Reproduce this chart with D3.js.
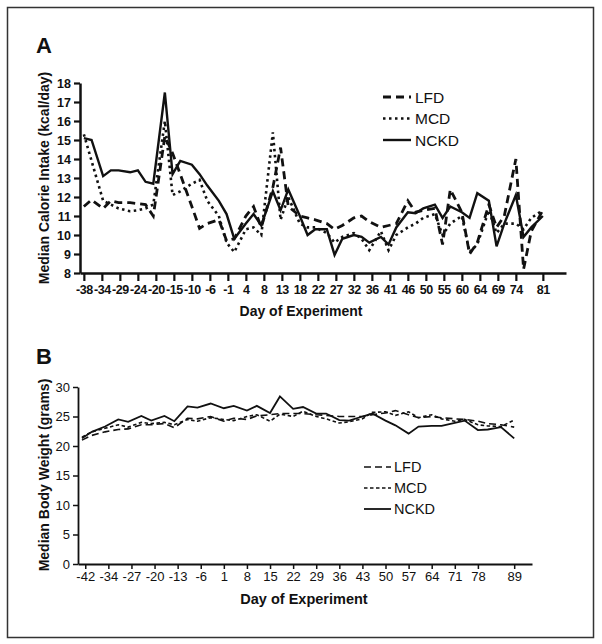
<!DOCTYPE html>
<html>
<head>
<meta charset="utf-8">
<script src="https://cdn.jsdelivr.net/npm/d3@7"></script>
<style>
  body { margin: 0; background: #fff; }
  svg { display: block; }
  text { font-family: "Liberation Sans", Arial, sans-serif; fill: #111; }
</style>
</head>
<body>
<script>
// panel A: calorie intake
const daysA = [-38,-36,-33,-31,-29,-26,-24,-22,-20,-17,-15,-13,-10,-8,-6,-3,-1,1,4,6,8,11,13,15,18,20,22,25,27,29,32,34,36,39,41,43,46,48,50,53,55,57,60,62,64,67,69,71,74,76,78,81];
const lfdA  = [11.5,11.85,11.4,11.8,11.7,11.7,11.65,11.6,11.0,15.2,14.3,13.2,11.5,10.35,10.6,10.8,9.7,9.8,11.0,11.5,10.4,12.5,14.6,11.5,11.0,10.9,10.8,10.6,10.3,10.5,10.9,11.0,10.7,10.4,10.5,10.6,11.8,11.2,11.3,11.4,9.5,12.4,11.2,9.0,9.6,11.6,10.4,11.0,14.0,8.2,10.2,11.3];
const mcdA  = [15.3,13.9,11.8,11.6,11.4,11.25,11.3,11.4,11.6,16.0,12.1,12.3,12.7,12.9,11.8,11.0,9.6,9.1,10.3,10.4,10.0,15.4,10.8,12.0,10.6,10.4,10.4,10.1,9.6,9.9,10.1,9.8,9.2,10.2,9.2,10.0,10.4,10.6,10.9,11.1,10.0,10.6,11.0,9.1,9.5,11.3,10.1,10.6,10.6,10.3,10.9,11.3];
const nckdA = [15.1,15.0,13.1,13.4,13.4,13.3,13.4,12.8,12.7,17.5,13.2,13.9,13.7,13.2,12.6,11.8,11.1,9.8,10.6,11.1,10.5,12.3,11.3,12.4,11.0,10.0,10.3,10.3,8.95,9.8,10.0,9.9,9.6,9.9,9.5,10.4,11.2,11.15,11.4,11.6,10.9,11.5,11.2,10.9,12.2,11.8,9.4,10.6,12.1,9.9,10.4,11.0];
const tickLabelsA = ["-38","-34","-29","-24","-20","-15","-10","-6","-1","4","8","13","18","22","27","32","36","41","46","50","55","60","64","69","74","81"];
const yTicksA = [8,9,10,11,12,13,14,15,16,17,18];

// panel B: body weight
const daysB = [-42,-39,-35,-31,-28,-24,-21,-17,-14,-10,-7,-3,1,4,8,11,15,18,22,25,29,32,36,39,43,46,50,53,57,60,64,67,71,74,78,81,85,89];
const lfdB  = [21.0,21.8,22.4,22.8,22.9,23.6,23.6,23.8,23.1,24.7,24.6,25.0,24.2,24.7,24.5,25.1,25.3,25.5,25.5,25.5,25.3,25.2,25.0,25.0,25.0,25.3,25.6,26.0,25.3,24.8,25.0,24.8,24.6,24.5,24.2,23.8,23.6,23.2];
const mcdB  = [21.5,22.4,23.0,23.6,23.2,24.0,23.8,24.0,23.6,24.5,24.2,24.8,24.5,24.3,25.0,25.3,24.2,25.4,25.0,25.9,25.0,24.6,23.9,24.1,24.6,25.7,25.8,25.2,25.8,24.8,25.3,24.6,24.2,24.5,23.6,23.4,23.3,24.4];
const nckdB = [21.3,22.4,23.3,24.5,24.1,25.1,24.3,25.1,24.2,26.7,26.5,27.2,26.4,26.8,26.0,26.8,25.6,28.4,26.3,26.6,25.5,25.5,24.4,24.3,25.0,25.5,24.3,23.5,22.1,23.3,23.4,23.4,23.9,24.3,22.7,22.8,23.2,21.3];
const tickLabelsB = ["-42","-34","-27","-20","-13","-6","1","8","15","22","29","36","43","50","57","64","71","78","89"];
const yTicksB = [0,5,10,15,20,25,30];

const seriesNames = ["LFD", "MCD", "NCKD"];

const width = 602, height = 644;

const svg = d3.select("body").append("svg")
  .attr("width", width)
  .attr("height", height);

svg.append("rect")
  .attr("width", width).attr("height", height)
  .attr("fill", "#fff");

// outer frame
svg.append("rect")
  .attr("x", 7.5).attr("y", 7.5)
  .attr("width", 586).attr("height", 630)
  .attr("fill", "none")
  .attr("stroke", "#333")
  .attr("stroke-width", 1.5);

// ---------- panel A ----------
const xA = d3.scaleLinear().domain([-39, 87]).range([80, 566]);
const yA = d3.scaleLinear().domain([8, 18]).range([273, 83]);

// ticks sit at even spacing, label is the rounded day
const tickDaysA = tickLabelsA.map((l, i) => i < 25 ? -38 + i * 14 / 3 : +l);

const gA = svg.append("g");

const xAxisA = gA.append("g")
  .attr("transform", "translate(0,273)")
  .call(d3.axisBottom(xA).tickValues(tickDaysA).tickFormat((d, i) => tickLabelsA[i]).tickSize(8).tickSizeOuter(0).tickPadding(4));
xAxisA.select(".domain").attr("stroke-width", 2.5).attr("stroke", "#111");
xAxisA.selectAll(".tick line").attr("stroke-width", 2.2).attr("stroke", "#111");
xAxisA.selectAll(".tick text")
  .style("font-family", "'Liberation Sans Narrow','Liberation Sans',sans-serif")
  .style("font-weight", "bold").style("font-size", "12.5px")
  .style("letter-spacing", "-0.4px").attr("fill", "#111");

const yAxisA = gA.append("g")
  .attr("transform", "translate(80,0)")
  .call(d3.axisLeft(yA).tickValues(yTicksA).tickSize(6).tickSizeOuter(0).tickPadding(3));
yAxisA.select(".domain").attr("stroke-width", 2.5).attr("stroke", "#111");
yAxisA.selectAll(".tick line").attr("stroke-width", 2.2).attr("stroke", "#111");
yAxisA.selectAll(".tick text")
  .style("font-weight", "bold").style("font-size", "12.5px").attr("fill", "#111");

const lineA = vals => d3.line().x((d, i) => xA(daysA[i])).y(d => yA(d))(vals);

const styleA = {
  LFD:  { w: 2.8, dash: "8,5" },
  MCD:  { w: 2.6, dash: "2.5,3.5" },
  NCKD: { w: 2.4, dash: null }
};

[[lfdA, "LFD"], [mcdA, "MCD"], [nckdA, "NCKD"]].forEach(([vals, name]) => {
  gA.append("path")
    .attr("d", lineA(vals))
    .attr("fill", "none")
    .attr("stroke", "#111")
    .attr("stroke-width", styleA[name].w)
    .attr("stroke-linejoin", "miter")
    .attr("stroke-dasharray", styleA[name].dash);
});

gA.append("text").attr("x", 36).attr("y", 53)
  .style("font-size", "22px").style("font-weight", "bold").text("A");

gA.append("text")
  .attr("transform", "translate(49,178) rotate(-90)")
  .attr("text-anchor", "middle")
  .style("font-size", "14px").style("font-weight", "bold")
  .text("Median Calorie Intake (kcal/day)");

gA.append("text").attr("x", 301).attr("y", 316)
  .attr("text-anchor", "middle")
  .style("font-size", "14px").style("font-weight", "bold")
  .text("Day of Experiment");

// legend A
seriesNames.forEach((name, i) => {
  const ly = 97 + i * 21.5;
  gA.append("line")
    .attr("x1", 383).attr("x2", 411).attr("y1", ly).attr("y2", ly)
    .attr("stroke", "#111")
    .attr("stroke-width", styleA[name].w)
    .attr("stroke-dasharray", styleA[name].dash);
  gA.append("text").attr("x", 415).attr("y", ly + 5.5)
    .style("font-size", "15.5px").text(name);
});

// ---------- panel B ----------
const xB = d3.scaleLinear().domain([-43.2, 94.4]).range([78, 532]);
const yB = d3.scaleLinear().domain([0, 30]).range([564, 387]);

const tickDaysB = tickLabelsB.map((l, i) => i < 18 ? 78 - (17 - i) * 7 : +l);

const gB = svg.append("g");

const xAxisB = gB.append("g")
  .attr("transform", "translate(0,564)")
  .call(d3.axisBottom(xB).tickValues(tickDaysB).tickFormat((d, i) => tickLabelsB[i]).tickSize(5).tickSizeOuter(0).tickPadding(3));
xAxisB.select(".domain").attr("stroke-width", 1.8).attr("stroke", "#111");
xAxisB.selectAll(".tick line").attr("stroke-width", 1.5).attr("stroke", "#111");
xAxisB.selectAll(".tick text")
  .style("font-family", "'Liberation Sans Narrow','Liberation Sans',sans-serif")
  .style("font-size", "13px").attr("fill", "#111");

const yAxisB = gB.append("g")
  .attr("transform", "translate(78,0)")
  .call(d3.axisLeft(yB).tickValues(yTicksB).tickSize(5).tickSizeOuter(0).tickPadding(3));
yAxisB.select(".domain").attr("stroke-width", 1.8).attr("stroke", "#111");
yAxisB.selectAll(".tick line").attr("stroke-width", 1.5).attr("stroke", "#111");
yAxisB.selectAll(".tick text")
  .style("font-size", "13px").attr("fill", "#111");

const lineB = vals => d3.line().x((d, i) => xB(daysB[i])).y(d => yB(d))(vals);

const styleB = {
  LFD:  { w: 1.6, dash: "7,4" },
  MCD:  { w: 1.6, dash: "3.5,2.5" },
  NCKD: { w: 1.8, dash: null }
};

[[lfdB, "LFD"], [mcdB, "MCD"], [nckdB, "NCKD"]].forEach(([vals, name]) => {
  gB.append("path")
    .attr("d", lineB(vals))
    .attr("fill", "none")
    .attr("stroke", "#111")
    .attr("stroke-width", styleB[name].w)
    .attr("stroke-dasharray", styleB[name].dash);
});

gB.append("text").attr("x", 36).attr("y", 364)
  .style("font-size", "22px").style("font-weight", "bold").text("B");

gB.append("text")
  .attr("transform", "translate(49,475) rotate(-90)")
  .attr("text-anchor", "middle")
  .style("font-size", "14px").style("font-weight", "bold")
  .text("Median Body Weight (grams)");

gB.append("text").attr("x", 304).attr("y", 604)
  .attr("text-anchor", "middle")
  .style("font-size", "14.5px").style("font-weight", "bold")
  .text("Day of Experiment");

// legend B
seriesNames.forEach((name, i) => {
  const ly = 467 + i * 21;
  gB.append("line")
    .attr("x1", 364).attr("x2", 391).attr("y1", ly).attr("y2", ly)
    .attr("stroke", "#111")
    .attr("stroke-width", styleB[name].w)
    .attr("stroke-dasharray", styleB[name].dash);
  gB.append("text").attr("x", 394).attr("y", ly + 5)
    .style("font-size", "14.5px").text(name);
});
</script>
</body>
</html>
